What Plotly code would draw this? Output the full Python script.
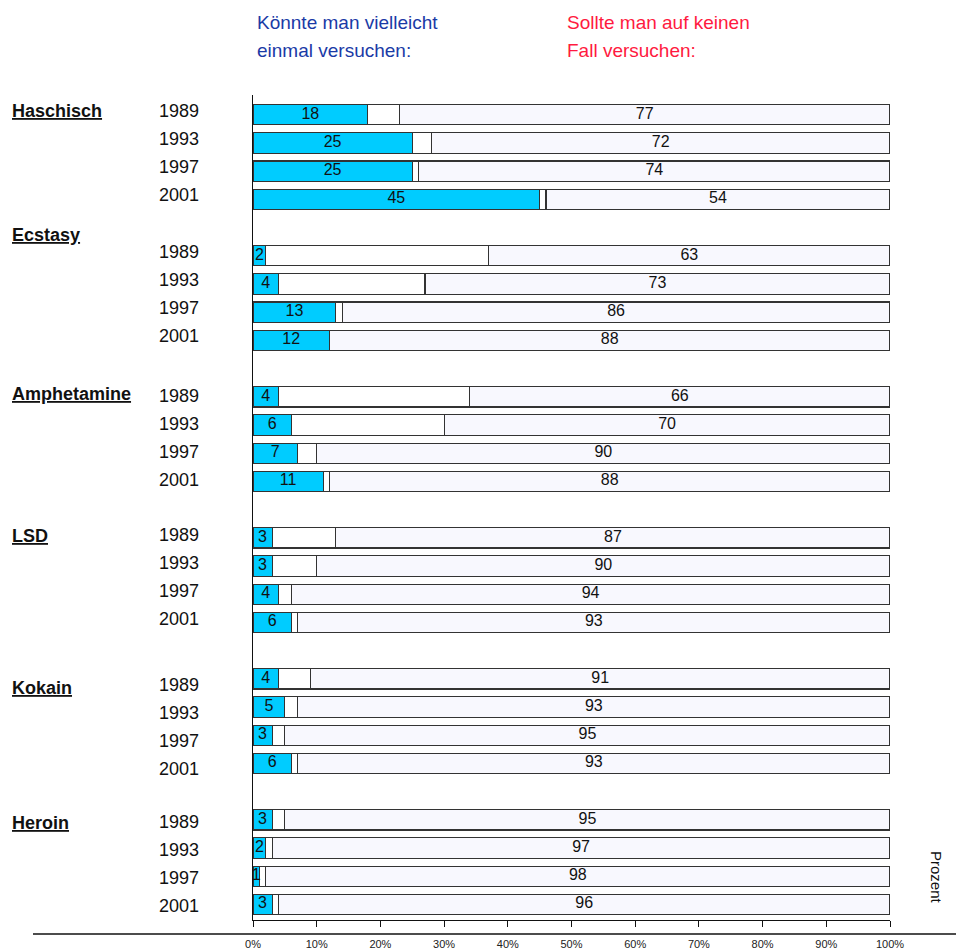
import plotly.graph_objects as go

drugs = ["Haschisch", "Ecstasy", "Amphetamine", "LSD", "Kokain", "Heroin"]
years = ["1989", "1993", "1997", "2001"]

# "Könnte man vielleicht einmal versuchen" (%)
could_try = [
    [18, 25, 25, 45],
    [2, 4, 13, 12],
    [4, 6, 7, 11],
    [3, 3, 4, 6],
    [4, 5, 3, 6],
    [3, 2, 1, 3],
]
# "Sollte man auf keinen Fall versuchen" (%)
never_try = [
    [77, 72, 74, 54],
    [63, 73, 86, 88],
    [66, 70, 90, 88],
    [87, 90, 94, 93],
    [91, 93, 95, 93],
    [95, 97, 98, 96],
]

x_ticks = [0, 10, 20, 30, 40, 50, 60, 70, 80, 90, 100]

FONT = "Liberation Sans, Arial, sans-serif"

rows, a_vals, gap_vals, b_vals = [], [], [], []
for g, d in enumerate(drugs):
    for k, yr in enumerate(years):
        rows.append(g * 5 + k)
        a = could_try[g][k]
        b = never_try[g][k]
        a_vals.append(a)
        b_vals.append(b)
        gap_vals.append(100 - a - b)

line_style = dict(color="#333333", width=1.1)

fig = go.Figure()
fig.add_trace(go.Bar(y=rows, x=a_vals, orientation="h", width=0.72,
                     marker=dict(color="#00CCFF", line=line_style), hoverinfo="skip"))
fig.add_trace(go.Bar(y=rows, x=gap_vals, orientation="h", width=0.72,
                     marker=dict(color="#FFFFFF", line=line_style), hoverinfo="skip"))
fig.add_trace(go.Bar(y=rows, x=b_vals, orientation="h", width=0.72,
                     marker=dict(color="#F8F8FE", line=line_style), hoverinfo="skip"))

# value labels centered in segments
fig.add_trace(go.Scatter(y=rows, x=[a / 2 for a in a_vals], mode="text",
                         text=[str(a) for a in a_vals],
                         textfont=dict(family=FONT, size=16, color="#111111"),
                         hoverinfo="skip", cliponaxis=False))
fig.add_trace(go.Scatter(y=rows, x=[100 - b / 2 for b in b_vals], mode="text",
                         text=[str(b) for b in b_vals],
                         textfont=dict(family=FONT, size=16, color="#111111"),
                         hoverinfo="skip", cliponaxis=False))

W, H = 956, 944
ML, MR, MT, MB = 245, 74, 87, 32
PW = W - ML - MR   # plot width  (637)
PH = H - MT - MB   # plot height (825)

annotations = []
# per-group vertical nudge of the left-hand labels (style only)
year_shift = [4, 4, 1, 3, -6, -2]
name_shift = [4, 21, 3, 2, -9, -3]
for g, d in enumerate(drugs):
    for k, yr in enumerate(years):
        annotations.append(dict(x=-52 / PW, xref="paper", y=g * 5 + k, yref="y",
                                text=yr, showarrow=False, xanchor="right",
                                yshift=year_shift[g],
                                font=dict(family=FONT, size=18, color="#111111")))
    annotations.append(dict(x=-243 / PW, xref="paper", y=g * 5, yref="y",
                            text="<b><u>" + d + "</u></b>", showarrow=False,
                            xanchor="left", yshift=name_shift[g],
                            font=dict(family=FONT, size=18, color="#111111")))

# header texts
title_blue = ["Könnte man vielleicht", "einmal versuchen:"]
title_red = ["Sollte man auf keinen", "Fall versuchen:"]
for i, t in enumerate(title_blue):
    annotations.append(dict(x=2 / PW, xref="paper", y=1 + (73 - i * 28) / PH, yref="paper",
                            text=t, showarrow=False, xanchor="left", yanchor="middle",
                            font=dict(family=FONT, size=19, color="#1A3AA6")))
for i, t in enumerate(title_red):
    annotations.append(dict(x=312 / PW, xref="paper", y=1 + (73 - i * 28) / PH, yref="paper",
                            text=t, showarrow=False, xanchor="left", yanchor="middle",
                            font=dict(family=FONT, size=19, color="#FF1A40")))

annotations.append(dict(x=1.0 + 47 / PW, xref="paper", y=43 / PH, yref="paper",
                        xanchor="center", yanchor="middle",
                        text="Prozent", showarrow=False, textangle=90,
                        font=dict(family=FONT, size=15, color="#111111")))

fig.update_layout(
    width=W, height=H,
    margin=dict(l=ML, r=MR, t=MT, b=MB),
    barmode="stack",
    showlegend=False,
    plot_bgcolor="white", paper_bgcolor="white",
    annotations=annotations,
    shapes=[dict(type="line", xref="paper", yref="paper",
                 x0=-220 / PW, x1=(W - ML + 10) / PW,
                 y0=-14 / PH, y1=-14 / PH,
                 line=dict(color="#111111", width=1.5))],
    xaxis=dict(range=[0, 100], tickvals=x_ticks,
               ticktext=[f"{v}%" for v in x_ticks],
               showgrid=False, zeroline=False, showline=True, linecolor="#111111",
               linewidth=1.3, ticks="outside", ticklen=6, tickcolor="#111111",
               tickfont=dict(family=FONT, size=11, color="#222222"),
               ticklabelstandoff=8, automargin=False),
    yaxis=dict(range=[28.55, -0.7], showgrid=False, zeroline=False,
               showline=True, linecolor="#111111", linewidth=1.3,
               showticklabels=False, ticks="", automargin=False),
)

fig.write_html("out.html")
